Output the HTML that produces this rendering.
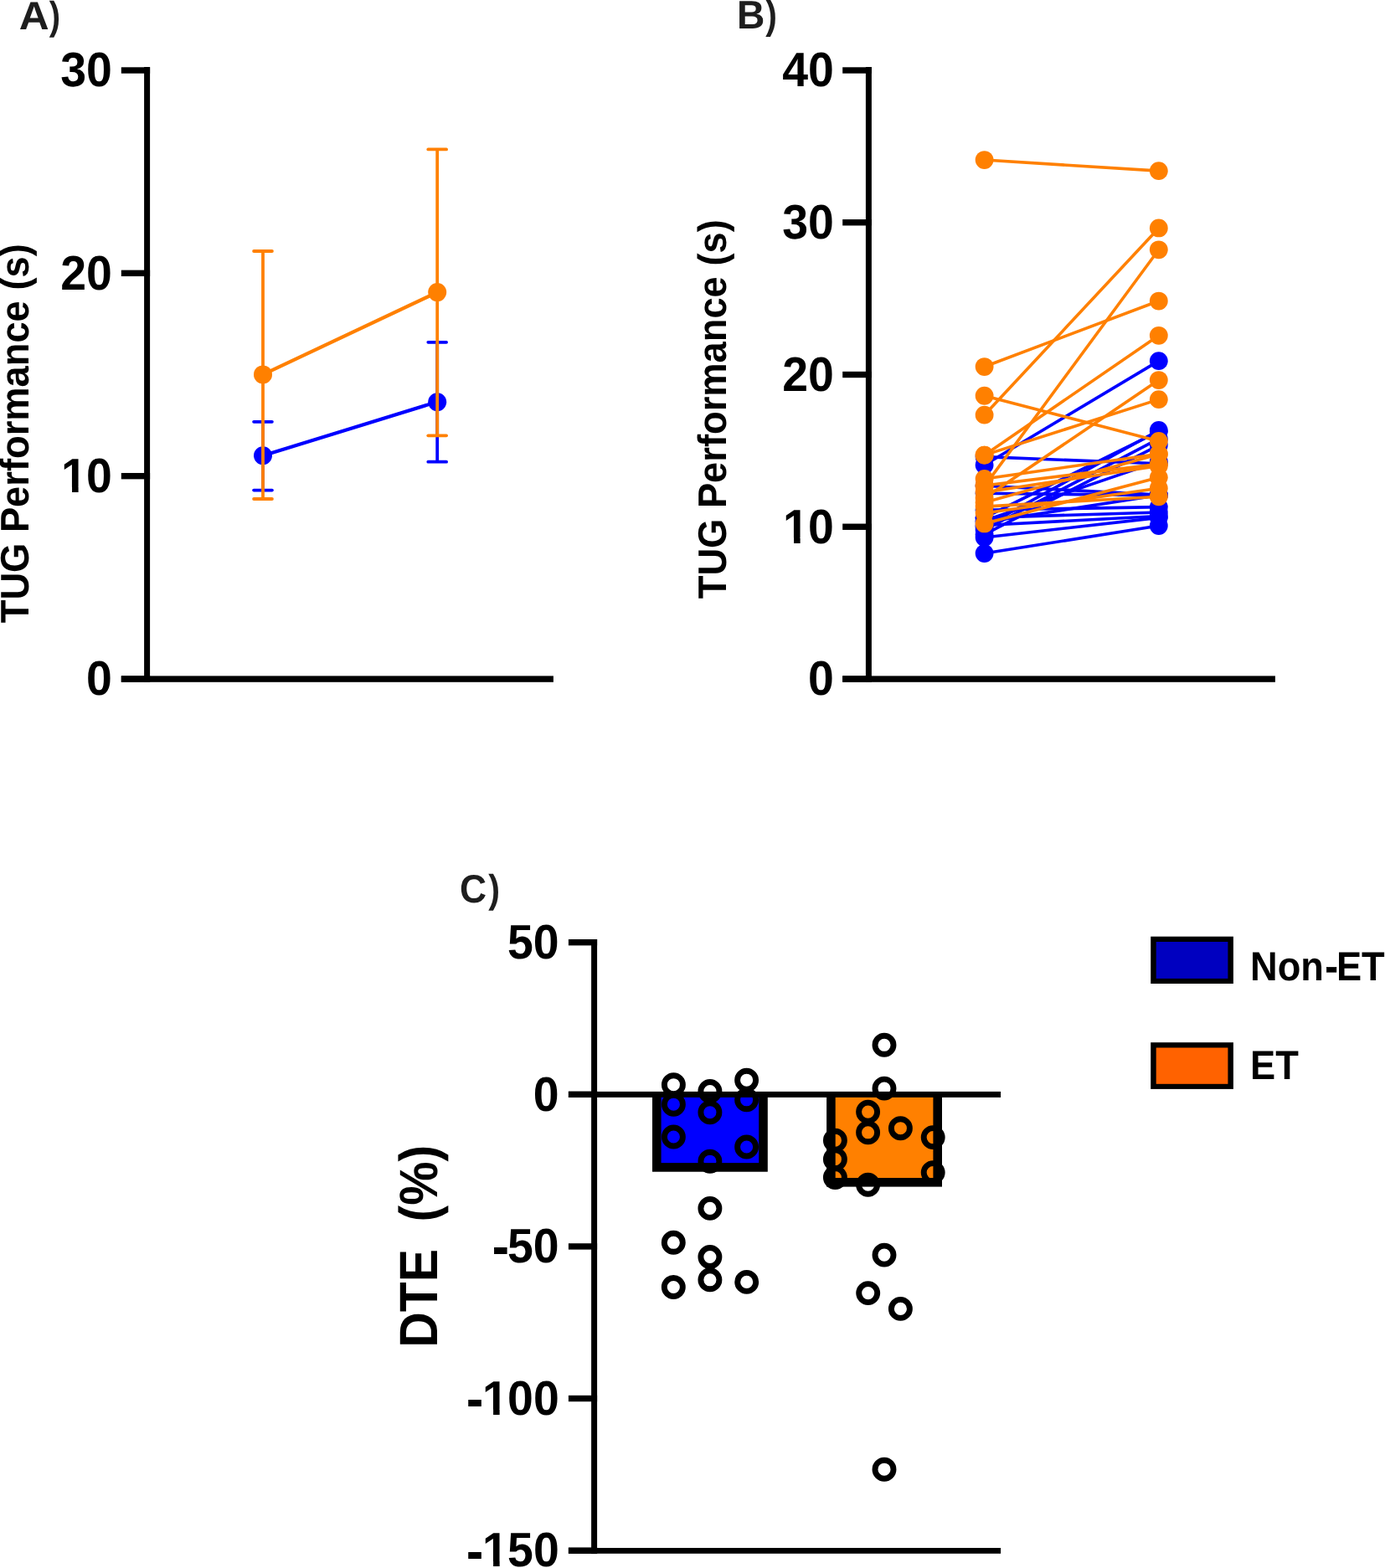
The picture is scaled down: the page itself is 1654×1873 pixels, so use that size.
<!DOCTYPE html>
<html><head><meta charset="utf-8"><title>Figure</title>
<style>
html,body{margin:0;padding:0;background:#fff;}
body{width:1654px;height:1873px;overflow:hidden;}
svg{display:block;}
svg text{font-family:'Liberation Sans', Arial, Helvetica, sans-serif;font-weight:bold;text-rendering:geometricPrecision;}
</style></head>
<body>
<svg width="1654" height="1873" viewBox="0 0 1654 1873">
<rect x="0" y="0" width="1654" height="1873" fill="#fff"/>
<defs><clipPath id="cf0" clipPathUnits="userSpaceOnUse"><rect x="-50" y="-100" width="400" height="93.85"/><rect x="-50" y="-6.15" width="53.3" height="20"/><rect x="14.025" y="-6.15" width="7.624999999999998" height="20"/><rect x="31.5" y="-6.15" width="300" height="20"/></clipPath><clipPath id="cf1" clipPathUnits="userSpaceOnUse"><rect x="-50" y="-100" width="400" height="93.85"/><rect x="-50" y="-6.15" width="71.94839999999999" height="20"/><rect x="32.6734" y="-6.15" width="7.625" height="20"/><rect x="50.148399999999995" y="-6.15" width="300" height="20"/></clipPath></defs>
<rect x="172.10" y="80.00" width="7.00" height="734.70" fill="#000"/>
<rect x="144.80" y="807.30" width="34.30" height="7.40" fill="#000"/>
<rect x="144.80" y="564.97" width="34.30" height="7.40" fill="#000"/>
<rect x="144.80" y="322.64" width="34.30" height="7.40" fill="#000"/>
<rect x="144.80" y="80.31" width="34.30" height="7.40" fill="#000"/>
<rect x="144.80" y="807.40" width="516.10" height="7.40" fill="#000"/>
<text transform="matrix(0.9900,0,0,1.0340,102.96,830.35)" font-size="56">0</text>
<text transform="matrix(0.9900,0,0,1.0340,72.15,588.02)" font-size="56" clip-path="url(#cf0)"><tspan dx="0.9">1</tspan><tspan dx="-0.9">0</tspan></text>
<text transform="matrix(0.9900,0,0,1.0340,72.15,345.69)" font-size="56">20</text>
<text transform="matrix(0.9900,0,0,1.0340,72.15,103.36)" font-size="56">30</text>
<line x1="314.00" y1="544.30" x2="522.20" y2="480.00" stroke="#0000FF" stroke-width="4.2" stroke-linecap="butt"/>
<line x1="314.00" y1="503.80" x2="314.00" y2="585.60" stroke="#0000FF" stroke-width="3.8" stroke-linecap="butt"/>
<line x1="303.10" y1="503.80" x2="324.90" y2="503.80" stroke="#0000FF" stroke-width="3.8" stroke-linecap="round"/>
<line x1="303.10" y1="585.60" x2="324.90" y2="585.60" stroke="#0000FF" stroke-width="3.8" stroke-linecap="round"/>
<line x1="522.20" y1="408.80" x2="522.20" y2="551.70" stroke="#0000FF" stroke-width="3.8" stroke-linecap="butt"/>
<line x1="511.30" y1="408.80" x2="533.10" y2="408.80" stroke="#0000FF" stroke-width="3.8" stroke-linecap="round"/>
<line x1="511.30" y1="551.70" x2="533.10" y2="551.70" stroke="#0000FF" stroke-width="3.8" stroke-linecap="round"/>
<circle cx="314.00" cy="544.30" r="11" fill="#0000FF"/>
<circle cx="522.20" cy="480.20" r="11" fill="#0000FF"/>
<line x1="314.00" y1="447.40" x2="522.20" y2="349.10" stroke="#FF8000" stroke-width="4.2" stroke-linecap="butt"/>
<line x1="314.00" y1="300.00" x2="314.00" y2="596.00" stroke="#FF8000" stroke-width="3.8" stroke-linecap="butt"/>
<line x1="303.10" y1="300.00" x2="324.90" y2="300.00" stroke="#FF8000" stroke-width="3.8" stroke-linecap="round"/>
<line x1="303.10" y1="596.00" x2="324.90" y2="596.00" stroke="#FF8000" stroke-width="3.8" stroke-linecap="round"/>
<line x1="522.20" y1="178.40" x2="522.20" y2="520.30" stroke="#FF8000" stroke-width="3.8" stroke-linecap="butt"/>
<line x1="511.30" y1="178.40" x2="533.10" y2="178.40" stroke="#FF8000" stroke-width="3.8" stroke-linecap="round"/>
<line x1="511.30" y1="520.30" x2="533.10" y2="520.30" stroke="#FF8000" stroke-width="3.8" stroke-linecap="round"/>
<circle cx="314.00" cy="447.40" r="11" fill="#FF8000"/>
<circle cx="522.20" cy="349.10" r="11" fill="#FF8000"/>
<rect x="1033.90" y="80.00" width="7.00" height="734.70" fill="#000"/>
<rect x="1006.20" y="807.30" width="34.70" height="7.40" fill="#000"/>
<rect x="1006.20" y="625.55" width="34.70" height="7.40" fill="#000"/>
<rect x="1006.20" y="443.80" width="34.70" height="7.40" fill="#000"/>
<rect x="1006.20" y="262.05" width="34.70" height="7.40" fill="#000"/>
<rect x="1006.20" y="80.30" width="34.70" height="7.40" fill="#000"/>
<rect x="1006.20" y="807.40" width="516.70" height="7.40" fill="#000"/>
<text transform="matrix(0.9900,0,0,1.0340,965.01,830.35)" font-size="56">0</text>
<text transform="matrix(0.9900,0,0,1.0340,934.20,648.60)" font-size="56" clip-path="url(#cf0)"><tspan dx="0.9">1</tspan><tspan dx="-0.9">0</tspan></text>
<text transform="matrix(0.9900,0,0,1.0340,934.20,466.85)" font-size="56">20</text>
<text transform="matrix(0.9900,0,0,1.0340,934.20,285.10)" font-size="56">30</text>
<text transform="matrix(0.9900,0,0,1.0340,934.20,103.35)" font-size="56">40</text>
<line x1="1175.60" y1="555.46" x2="1383.80" y2="431.14" stroke="#0000FF" stroke-width="3.6" stroke-linecap="butt"/>
<line x1="1175.60" y1="545.64" x2="1383.80" y2="553.82" stroke="#0000FF" stroke-width="3.6" stroke-linecap="butt"/>
<line x1="1175.60" y1="661.06" x2="1383.80" y2="627.98" stroke="#0000FF" stroke-width="3.6" stroke-linecap="butt"/>
<line x1="1175.60" y1="641.97" x2="1383.80" y2="618.35" stroke="#0000FF" stroke-width="3.6" stroke-linecap="butt"/>
<line x1="1175.60" y1="618.35" x2="1383.80" y2="515.29" stroke="#0000FF" stroke-width="3.6" stroke-linecap="butt"/>
<line x1="1175.60" y1="632.88" x2="1383.80" y2="524.20" stroke="#0000FF" stroke-width="3.6" stroke-linecap="butt"/>
<line x1="1175.60" y1="638.34" x2="1383.80" y2="531.83" stroke="#0000FF" stroke-width="3.6" stroke-linecap="butt"/>
<line x1="1175.60" y1="629.25" x2="1383.80" y2="514.02" stroke="#0000FF" stroke-width="3.6" stroke-linecap="butt"/>
<line x1="1175.60" y1="621.98" x2="1383.80" y2="551.10" stroke="#0000FF" stroke-width="3.6" stroke-linecap="butt"/>
<line x1="1175.60" y1="623.80" x2="1383.80" y2="591.45" stroke="#0000FF" stroke-width="3.6" stroke-linecap="butt"/>
<line x1="1175.60" y1="580.18" x2="1383.80" y2="591.08" stroke="#0000FF" stroke-width="3.6" stroke-linecap="butt"/>
<line x1="1175.60" y1="589.26" x2="1383.80" y2="591.63" stroke="#0000FF" stroke-width="3.6" stroke-linecap="butt"/>
<line x1="1175.60" y1="609.26" x2="1383.80" y2="605.62" stroke="#0000FF" stroke-width="3.6" stroke-linecap="butt"/>
<line x1="1175.60" y1="618.35" x2="1383.80" y2="611.98" stroke="#0000FF" stroke-width="3.6" stroke-linecap="butt"/>
<line x1="1175.60" y1="627.43" x2="1383.80" y2="616.53" stroke="#0000FF" stroke-width="3.6" stroke-linecap="butt"/>
<circle cx="1175.60" cy="555.46" r="10.9" fill="#0000FF"/>
<circle cx="1383.80" cy="431.14" r="10.9" fill="#0000FF"/>
<circle cx="1175.60" cy="545.64" r="10.9" fill="#0000FF"/>
<circle cx="1383.80" cy="553.82" r="10.9" fill="#0000FF"/>
<circle cx="1175.60" cy="661.06" r="10.9" fill="#0000FF"/>
<circle cx="1383.80" cy="627.98" r="10.9" fill="#0000FF"/>
<circle cx="1175.60" cy="641.97" r="10.9" fill="#0000FF"/>
<circle cx="1383.80" cy="618.35" r="10.9" fill="#0000FF"/>
<circle cx="1175.60" cy="618.35" r="10.9" fill="#0000FF"/>
<circle cx="1383.80" cy="515.29" r="10.9" fill="#0000FF"/>
<circle cx="1175.60" cy="632.88" r="10.9" fill="#0000FF"/>
<circle cx="1383.80" cy="524.20" r="10.9" fill="#0000FF"/>
<circle cx="1175.60" cy="638.34" r="10.9" fill="#0000FF"/>
<circle cx="1383.80" cy="531.83" r="10.9" fill="#0000FF"/>
<circle cx="1175.60" cy="629.25" r="10.9" fill="#0000FF"/>
<circle cx="1383.80" cy="514.02" r="10.9" fill="#0000FF"/>
<circle cx="1175.60" cy="621.98" r="10.9" fill="#0000FF"/>
<circle cx="1383.80" cy="551.10" r="10.9" fill="#0000FF"/>
<circle cx="1175.60" cy="623.80" r="10.9" fill="#0000FF"/>
<circle cx="1383.80" cy="591.45" r="10.9" fill="#0000FF"/>
<circle cx="1175.60" cy="580.18" r="10.9" fill="#0000FF"/>
<circle cx="1383.80" cy="591.08" r="10.9" fill="#0000FF"/>
<circle cx="1175.60" cy="589.26" r="10.9" fill="#0000FF"/>
<circle cx="1383.80" cy="591.63" r="10.9" fill="#0000FF"/>
<circle cx="1175.60" cy="609.26" r="10.9" fill="#0000FF"/>
<circle cx="1383.80" cy="605.62" r="10.9" fill="#0000FF"/>
<circle cx="1175.60" cy="618.35" r="10.9" fill="#0000FF"/>
<circle cx="1383.80" cy="611.98" r="10.9" fill="#0000FF"/>
<circle cx="1175.60" cy="627.43" r="10.9" fill="#0000FF"/>
<circle cx="1383.80" cy="616.53" r="10.9" fill="#0000FF"/>
<line x1="1175.60" y1="191.05" x2="1383.80" y2="204.14" stroke="#FF8000" stroke-width="3.6" stroke-linecap="butt"/>
<line x1="1175.60" y1="472.76" x2="1383.80" y2="526.92" stroke="#FF8000" stroke-width="3.6" stroke-linecap="butt"/>
<line x1="1175.60" y1="495.66" x2="1383.80" y2="272.47" stroke="#FF8000" stroke-width="3.6" stroke-linecap="butt"/>
<line x1="1175.60" y1="438.05" x2="1383.80" y2="359.53" stroke="#FF8000" stroke-width="3.6" stroke-linecap="butt"/>
<line x1="1175.60" y1="543.65" x2="1383.80" y2="400.79" stroke="#FF8000" stroke-width="3.6" stroke-linecap="butt"/>
<line x1="1175.60" y1="595.08" x2="1383.80" y2="454.04" stroke="#FF8000" stroke-width="3.6" stroke-linecap="butt"/>
<line x1="1175.60" y1="580.90" x2="1383.80" y2="298.28" stroke="#FF8000" stroke-width="3.6" stroke-linecap="butt"/>
<line x1="1175.60" y1="543.65" x2="1383.80" y2="477.13" stroke="#FF8000" stroke-width="3.6" stroke-linecap="butt"/>
<line x1="1175.60" y1="572.00" x2="1383.80" y2="542.19" stroke="#FF8000" stroke-width="3.6" stroke-linecap="butt"/>
<line x1="1175.60" y1="580.00" x2="1383.80" y2="554.37" stroke="#FF8000" stroke-width="3.6" stroke-linecap="butt"/>
<line x1="1175.60" y1="625.43" x2="1383.80" y2="570.36" stroke="#FF8000" stroke-width="3.6" stroke-linecap="butt"/>
<line x1="1175.60" y1="605.08" x2="1383.80" y2="593.26" stroke="#FF8000" stroke-width="3.6" stroke-linecap="butt"/>
<line x1="1175.60" y1="613.07" x2="1383.80" y2="583.27" stroke="#FF8000" stroke-width="3.6" stroke-linecap="butt"/>
<line x1="1175.60" y1="587.99" x2="1383.80" y2="556.55" stroke="#FF8000" stroke-width="3.6" stroke-linecap="butt"/>
<line x1="1175.60" y1="600.17" x2="1383.80" y2="542.56" stroke="#FF8000" stroke-width="3.6" stroke-linecap="butt"/>
<circle cx="1175.60" cy="191.05" r="10.9" fill="#FF8000"/>
<circle cx="1383.80" cy="204.14" r="10.9" fill="#FF8000"/>
<circle cx="1175.60" cy="472.76" r="10.9" fill="#FF8000"/>
<circle cx="1383.80" cy="526.92" r="10.9" fill="#FF8000"/>
<circle cx="1175.60" cy="495.66" r="10.9" fill="#FF8000"/>
<circle cx="1383.80" cy="272.47" r="10.9" fill="#FF8000"/>
<circle cx="1175.60" cy="438.05" r="10.9" fill="#FF8000"/>
<circle cx="1383.80" cy="359.53" r="10.9" fill="#FF8000"/>
<circle cx="1175.60" cy="543.65" r="10.9" fill="#FF8000"/>
<circle cx="1383.80" cy="400.79" r="10.9" fill="#FF8000"/>
<circle cx="1175.60" cy="595.08" r="10.9" fill="#FF8000"/>
<circle cx="1383.80" cy="454.04" r="10.9" fill="#FF8000"/>
<circle cx="1175.60" cy="580.90" r="10.9" fill="#FF8000"/>
<circle cx="1383.80" cy="298.28" r="10.9" fill="#FF8000"/>
<circle cx="1175.60" cy="543.65" r="10.9" fill="#FF8000"/>
<circle cx="1383.80" cy="477.13" r="10.9" fill="#FF8000"/>
<circle cx="1175.60" cy="572.00" r="10.9" fill="#FF8000"/>
<circle cx="1383.80" cy="542.19" r="10.9" fill="#FF8000"/>
<circle cx="1175.60" cy="580.00" r="10.9" fill="#FF8000"/>
<circle cx="1383.80" cy="554.37" r="10.9" fill="#FF8000"/>
<circle cx="1175.60" cy="625.43" r="10.9" fill="#FF8000"/>
<circle cx="1383.80" cy="570.36" r="10.9" fill="#FF8000"/>
<circle cx="1175.60" cy="605.08" r="10.9" fill="#FF8000"/>
<circle cx="1383.80" cy="593.26" r="10.9" fill="#FF8000"/>
<circle cx="1175.60" cy="613.07" r="10.9" fill="#FF8000"/>
<circle cx="1383.80" cy="583.27" r="10.9" fill="#FF8000"/>
<circle cx="1175.60" cy="587.99" r="10.9" fill="#FF8000"/>
<circle cx="1383.80" cy="556.55" r="10.9" fill="#FF8000"/>
<circle cx="1175.60" cy="600.17" r="10.9" fill="#FF8000"/>
<circle cx="1383.80" cy="542.56" r="10.9" fill="#FF8000"/>
<rect x="706.10" y="1122.00" width="7.00" height="734.10" fill="#000"/>
<rect x="678.90" y="1121.99" width="34.20" height="7.40" fill="#000"/>
<rect x="678.90" y="1303.60" width="34.20" height="7.40" fill="#000"/>
<rect x="678.90" y="1485.21" width="34.20" height="7.40" fill="#000"/>
<rect x="678.90" y="1666.82" width="34.20" height="7.40" fill="#000"/>
<rect x="678.90" y="1848.43" width="34.20" height="7.40" fill="#000"/>
<rect x="678.90" y="1849.00" width="516.20" height="6.80" fill="#000"/>
<text transform="matrix(0.9900,0,0,1.0340,606.00,1145.04)" font-size="56">50</text>
<text transform="matrix(0.9900,0,0,1.0340,636.81,1326.65)" font-size="56">0</text>
<text transform="matrix(0.9900,0,0,1.0340,587.56,1508.26)" font-size="56"><tspan x="0.67" dy="1.0" textLength="19.338" lengthAdjust="spacingAndGlyphs" stroke="#000" stroke-width="0.89">-</tspan><tspan x="18.648" dy="-1.0">50</tspan></text>
<text transform="matrix(0.9900,0,0,1.0340,556.75,1689.87)" font-size="56" clip-path="url(#cf1)"><tspan x="0.67" dy="1.0" textLength="19.338" lengthAdjust="spacingAndGlyphs" stroke="#000" stroke-width="0.89">-</tspan><tspan x="19.548" dy="-1.0">1</tspan><tspan dx="-0.9">00</tspan></text>
<text transform="matrix(0.9900,0,0,1.0340,556.75,1871.48)" font-size="56" clip-path="url(#cf1)"><tspan x="0.67" dy="1.0" textLength="19.338" lengthAdjust="spacingAndGlyphs" stroke="#000" stroke-width="0.89">-</tspan><tspan x="19.548" dy="-1.0">1</tspan><tspan dx="-0.9">50</tspan></text>
<rect x="779.00" y="1307.30" width="137.80" height="92.40" fill="#000"/>
<rect x="789.60" y="1307.30" width="116.60" height="81.80" fill="#0000FF"/>
<rect x="987.10" y="1307.30" width="137.90" height="110.30" fill="#000"/>
<rect x="997.70" y="1307.30" width="116.70" height="99.70" fill="#FF8000"/>
<rect x="678.90" y="1303.90" width="516.20" height="7.00" fill="#000"/>
<circle cx="804.40" cy="1295.70" r="11.0" fill="none" stroke="#000" stroke-width="6.9"/>
<circle cx="804.40" cy="1319.20" r="11.0" fill="none" stroke="#000" stroke-width="6.9"/>
<circle cx="804.40" cy="1358.00" r="11.0" fill="none" stroke="#000" stroke-width="6.9"/>
<circle cx="847.90" cy="1303.50" r="11.0" fill="none" stroke="#000" stroke-width="6.9"/>
<circle cx="847.90" cy="1328.70" r="11.0" fill="none" stroke="#000" stroke-width="6.9"/>
<circle cx="847.90" cy="1387.20" r="11.0" fill="none" stroke="#000" stroke-width="6.9"/>
<circle cx="847.90" cy="1443.40" r="11.0" fill="none" stroke="#000" stroke-width="6.9"/>
<circle cx="891.60" cy="1290.20" r="11.0" fill="none" stroke="#000" stroke-width="6.9"/>
<circle cx="891.60" cy="1313.80" r="11.0" fill="none" stroke="#000" stroke-width="6.9"/>
<circle cx="891.60" cy="1370.00" r="11.0" fill="none" stroke="#000" stroke-width="6.9"/>
<circle cx="804.30" cy="1484.30" r="11.0" fill="none" stroke="#000" stroke-width="6.9"/>
<circle cx="847.90" cy="1501.50" r="11.0" fill="none" stroke="#000" stroke-width="6.9"/>
<circle cx="804.30" cy="1537.50" r="11.0" fill="none" stroke="#000" stroke-width="6.9"/>
<circle cx="847.90" cy="1528.80" r="11.0" fill="none" stroke="#000" stroke-width="6.9"/>
<circle cx="891.70" cy="1531.40" r="11.0" fill="none" stroke="#000" stroke-width="6.9"/>
<circle cx="1056.00" cy="1248.30" r="11.0" fill="none" stroke="#000" stroke-width="6.9"/>
<circle cx="1056.00" cy="1300.10" r="11.0" fill="none" stroke="#000" stroke-width="6.9"/>
<circle cx="1036.60" cy="1328.10" r="11.0" fill="none" stroke="#000" stroke-width="6.9"/>
<circle cx="1036.60" cy="1352.80" r="11.0" fill="none" stroke="#000" stroke-width="6.9"/>
<circle cx="1075.40" cy="1347.70" r="11.0" fill="none" stroke="#000" stroke-width="6.9"/>
<circle cx="997.40" cy="1362.20" r="11.0" fill="none" stroke="#000" stroke-width="6.9"/>
<circle cx="997.40" cy="1384.70" r="11.0" fill="none" stroke="#000" stroke-width="6.9"/>
<circle cx="997.40" cy="1406.50" r="11.0" fill="none" stroke="#000" stroke-width="6.9"/>
<circle cx="1114.20" cy="1358.60" r="11.0" fill="none" stroke="#000" stroke-width="6.9"/>
<circle cx="1114.20" cy="1400.60" r="11.0" fill="none" stroke="#000" stroke-width="6.9"/>
<circle cx="1036.60" cy="1415.20" r="11.0" fill="none" stroke="#000" stroke-width="6.9"/>
<circle cx="1056.00" cy="1499.10" r="11.0" fill="none" stroke="#000" stroke-width="6.9"/>
<circle cx="1036.70" cy="1544.60" r="11.0" fill="none" stroke="#000" stroke-width="6.9"/>
<circle cx="1075.40" cy="1563.40" r="11.0" fill="none" stroke="#000" stroke-width="6.9"/>
<circle cx="1056.00" cy="1755.20" r="11.0" fill="none" stroke="#000" stroke-width="6.9"/>
<rect x="1374.20" y="1118.70" width="98.70" height="56.30" fill="#000"/>
<rect x="1380.70" y="1125.00" width="85.70" height="43.90" fill="#0000C0"/>
<rect x="1374.20" y="1245.20" width="98.70" height="55.70" fill="#000"/>
<rect x="1380.70" y="1251.50" width="85.70" height="43.30" fill="#FF6200"/>
<text transform="matrix(0.9620,0,0,1.0380,1493.00,1170.9)" font-size="47">Non<tspan x="92.922" dy="0.335" textLength="15.861" lengthAdjust="spacingAndGlyphs" stroke="#000" stroke-width="0.67">-</tspan><tspan x="107.012" dy="-0.335">ET</tspan></text>
<text transform="matrix(0.9620,0.0000,0.0000,1.0380,1493.00,1289.00)" font-size="47" fill="#000">ET</text>
<text transform="matrix(1,0,0,1.03,0,34.8)" font-size="46" fill="#1e1e1e"><tspan x="22.88" y="0" textLength="35.94" lengthAdjust="spacingAndGlyphs">A</tspan><tspan x="58.69" y="0" textLength="13.33" lengthAdjust="spacingAndGlyphs">)</tspan></text>
<text transform="matrix(1,0,0,1.035,0,33.9)" font-size="46" fill="#1e1e1e"><tspan x="880.06" y="0" textLength="33.34" lengthAdjust="spacingAndGlyphs">B</tspan><tspan x="914.29" y="0" textLength="13.68" lengthAdjust="spacingAndGlyphs">)</tspan></text>
<text transform="matrix(1,0,0,1.03,0,1078.3)" font-size="46" fill="#1e1e1e"><tspan x="549.09" y="0" textLength="32.11" lengthAdjust="spacingAndGlyphs">C</tspan><tspan x="583.29" y="0" textLength="13.80" lengthAdjust="spacingAndGlyphs">)</tspan></text>
<text transform="matrix(0,-0.9846,1.0350,0,34.06,744.29)" font-size="46">TUG Performance (s)</text>
<text transform="matrix(0,-0.9846,1.0350,0,867.00,715.29)" font-size="46">TUG Performance (s)</text>
<text transform="matrix(0,-0.9563,1.0450,0,522.00,1609.74)" font-size="61.5" style="white-space:pre">DTE  (%)</text>
</svg>
</body></html>
